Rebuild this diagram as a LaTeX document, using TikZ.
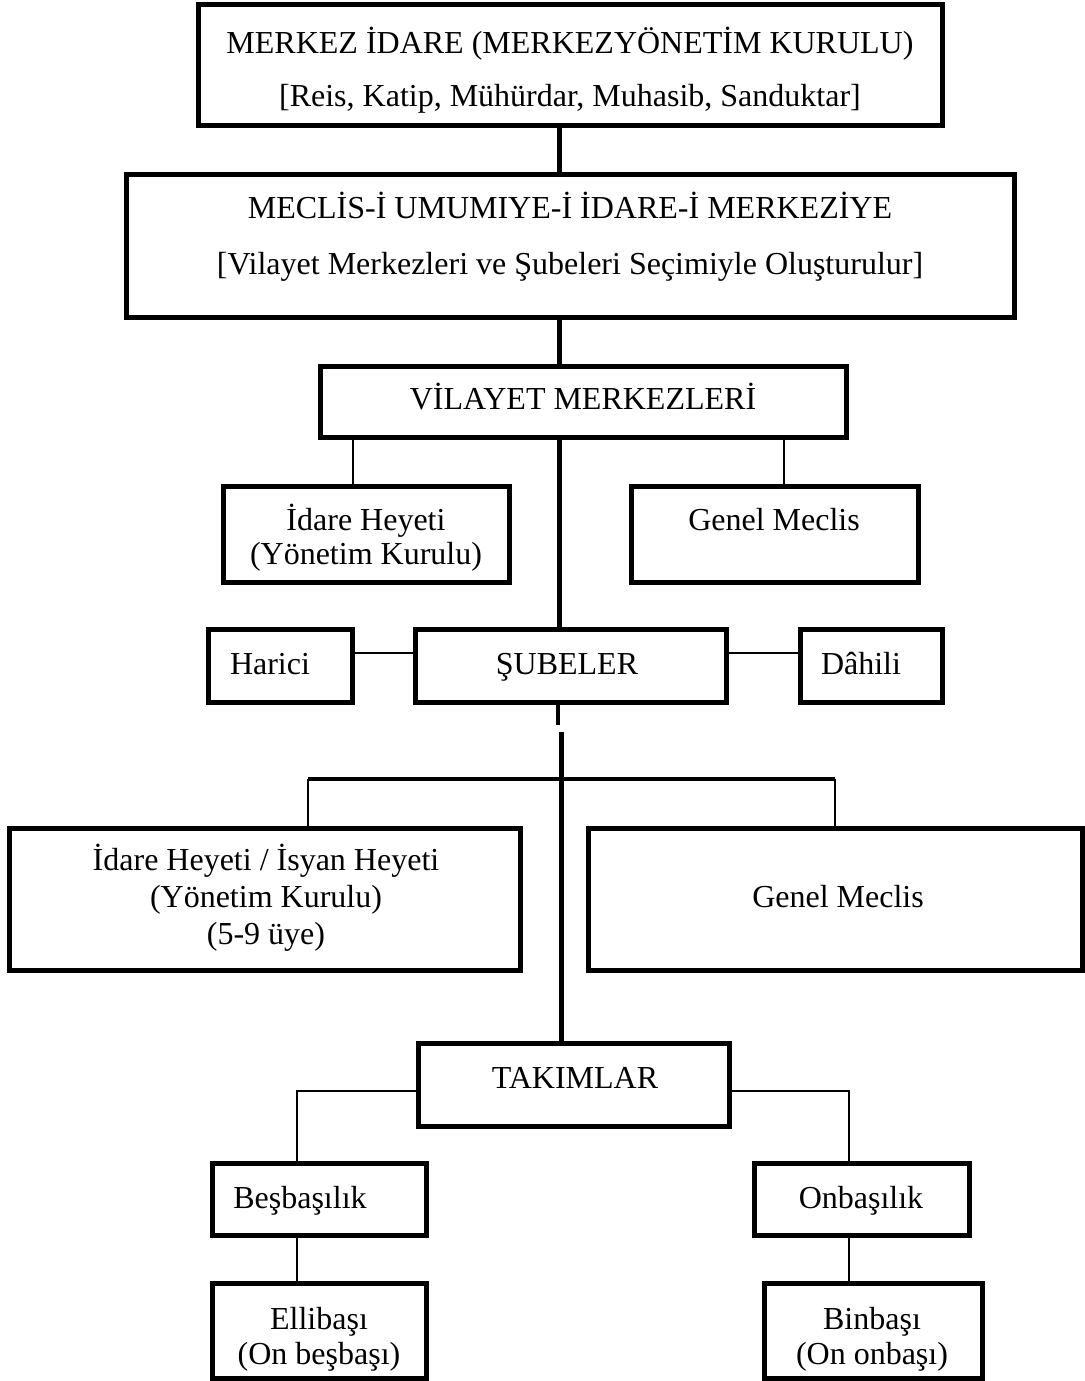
\documentclass[tikz,border=0pt]{standalone}
\usepackage{fontspec}
\setmainfont{Liberation Serif}
\begin{document}
\begin{tikzpicture}[x=1pt,y=-1pt,
  box/.style={draw=black,line width=5pt,rectangle,inner sep=0pt,fill=none},
  txt/.style={anchor=base,inner sep=0pt,font=\fontsize{32}{36}\selectfont},
  trunk/.style={line width=5pt},
  midline/.style={line width=4pt},
  thin/.style={line width=2.6pt}]
\useasboundingbox (0,0) rectangle (1084,1381);
\fill[white] (0,0) rectangle (1084,1381);
% boxes
\node[box,minimum width=744pt,minimum height=120pt] (b1) at (570,65) {};
\node[box,minimum width=888pt,minimum height=143pt] (b2) at (570,245.5) {};
\node[box,minimum width=526pt,minimum height=71pt] (b3) at (583,401.5) {};
\node[box,minimum width=286pt,minimum height=96pt] (b4) at (366,534) {};
\node[box,minimum width=287pt,minimum height=96pt] (b5) at (774.5,534) {};
\node[box,minimum width=144pt,minimum height=73pt] (har) at (280,665.5) {};
\node[box,minimum width=311pt,minimum height=73pt] (sube) at (570.5,665.5) {};
\node[box,minimum width=142pt,minimum height=73pt] (dah) at (871,665.5) {};
\node[box,minimum width=511pt,minimum height=142pt] (b6) at (265,899) {};
\node[box,minimum width=494pt,minimum height=142pt] (b7) at (835,899) {};
\node[box,minimum width=311pt,minimum height=83pt] (tak) at (573.5,1084.5) {};
\node[box,minimum width=214pt,minimum height=72pt] (bes) at (319,1199) {};
\node[box,minimum width=215pt,minimum height=72pt] (onb) at (861.5,1199) {};
\node[box,minimum width=214pt,minimum height=95pt] (elli) at (319,1330.5) {};
\node[box,minimum width=218pt,minimum height=95pt] (bin) at (873,1330.5) {};
% texts
\node[txt] (t1a) at (570,53) {MERKEZ İDARE (MERKEZYÖNETİM KURULU)};
\node[txt] (t1b) at (570,106) {[Reis, Katip, Mühürdar, Muhasib, Sanduktar]};
\node[txt] (t2a) at (570,218) {MECLİS-İ UMUMIYE-İ İDARE-İ MERKEZİYE};
\node[txt] (t2b) at (570,274) {[Vilayet Merkezleri ve Şubeleri Seçimiyle Oluşturulur]};
\node[txt] (t3) at (583,409) {VİLAYET MERKEZLERİ};
\node[txt] (t4a) at (366,530) {İdare Heyeti};
\node[txt] (t4b) at (366,564) {(Yönetim Kurulu)};
\node[txt] (t5) at (774,530) {Genel Meclis};
\node[txt] (th) at (270,674) {Harici};
\node[txt] (ts) at (567,674) {ŞUBELER};
\node[txt] (td) at (861,674) {Dâhili};
\node[txt] (t6a) at (266,870) {İdare Heyeti / İsyan Heyeti};
\node[txt] (t6b) at (266,907) {(Yönetim Kurulu)};
\node[txt] (t6c) at (266,944) {(5-9 üye)};
\node[txt] (t7) at (838,907) {Genel Meclis};
\node[txt] (tt) at (575,1088) {TAKIMLAR};
\node[txt] (tb) at (300,1208) {Beşbaşılık};
\node[txt] (to) at (861,1208) {Onbaşılık};
\node[txt] (tea) at (319,1329) {Ellibaşı};
\node[txt] (teb) at (319,1364) {(On beşbaşı)};
\node[txt] (tba) at (872,1329) {Binbaşı};
\node[txt] (tbb) at (872,1364) {(On onbaşı)};
% connector coordinates
\coordinate (xa) at (559,0);
\coordinate (xl) at (353,0);
\coordinate (xr) at (784,0);
\coordinate (yh) at (0,653);
\coordinate (xs) at (558,0);
\coordinate (gapa) at (558,725);
\coordinate (gapb) at (561,732);
\coordinate (hl) at (308,779);
\coordinate (hr) at (835,779);
\coordinate (yt) at (0,1091);
\coordinate (xbl) at (297,0);
\coordinate (xbr) at (849,0);
% connectors
\draw[trunk] (b1.south -| xa) -- (b2.north -| xa);
\draw[trunk] (b2.south -| xa) -- (b3.north -| xa);
\draw[thin] (b3.south -| xl) -- (b4.north -| xl);
\draw[thin] (b3.south -| xr) -- (b5.north -| xr);
\draw[trunk] (b3.south -| xa) -- (sube.north -| xa);
\draw[thin] (har.east |- yh) -- (sube.west |- yh);
\draw[thin] (sube.east |- yh) -- (dah.west |- yh);
\draw[midline] (sube.south -| xs) -- (gapa);
\draw[trunk] (gapb) -- (tak.north -| gapb);
\draw[midline] (hl) -- (hr);
\draw[thin] (hl) -- (b6.north -| hl);
\draw[thin] (hr) -- (b7.north -| hr);
\draw[thin] (tak.west |- yt) -- (xbl |- yt) -- (bes.north -| xbl);
\draw[thin] (tak.east |- yt) -- (xbr |- yt) -- (onb.north -| xbr);
\draw[thin] (bes.south -| xbl) -- (elli.north -| xbl);
\draw[thin] (onb.south -| xbr) -- (bin.north -| xbr);
\end{tikzpicture}
\end{document}
